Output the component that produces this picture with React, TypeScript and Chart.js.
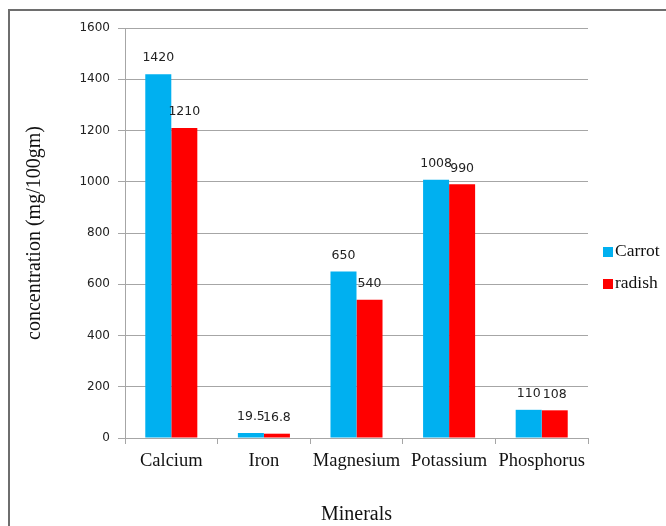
import React, { useEffect, useRef } from "react";
import { Chart, registerables } from "chart.js";

Chart.register(...registerables);

const categories = ["Calcium", "Iron", "Magnesium", "Potassium", "Phosphorus"];
const carrotValues = [1420, 19.5, 650, 1008, 110];
const radishValues = [1210, 16.8, 540, 990, 108];
const seriesNames = ["Carrot", "radish"];
const seriesColors = ["#00B0F0", "#FF0000"];
const yTicks = [0, 200, 400, 600, 800, 1000, 1200, 1400, 1600];

const valueLabelPlugin = {
  id: "valueLabels",
  afterDatasetsDraw(chart: any) {
    const ctx = chart.ctx;
    ctx.save();
    ctx.font = "12.5px 'DejaVu Sans'";
    ctx.fillStyle = "#222";
    ctx.textAlign = "center";
    ctx.textBaseline = "middle";
    chart.data.datasets.forEach((ds: any, di: number) => {
      const meta = chart.getDatasetMeta(di);
      meta.data.forEach((el: any, i: number) => {
        ctx.fillText(String(ds.data[i]), el.x, el.y - 16);
      });
    });
    ctx.restore();
  },
};

const sideLegendPlugin = {
  id: "sideLegend",
  afterDraw(chart: any) {
    const ctx = chart.ctx;
    ctx.save();
    ctx.font = "17.5px 'Liberation Serif'";
    ctx.textAlign = "left";
    ctx.textBaseline = "middle";
    chart.data.datasets.forEach((ds: any, di: number) => {
      const cy = 252 + di * 32;
      ctx.fillStyle = ds.backgroundColor;
      ctx.fillRect(603, cy - 5, 10, 10);
      ctx.fillStyle = "#111";
      ctx.fillText(ds.label, 615, cy - 1);
    });
    ctx.restore();
  },
};

export default function App() {
  const canvasRef = useRef<HTMLCanvasElement | null>(null);

  useEffect(() => {
    if (!canvasRef.current) return;
    const chart = new Chart(canvasRef.current, {
      type: "bar",
      data: {
        labels: categories,
        datasets: [
          { label: seriesNames[0], data: carrotValues, backgroundColor: seriesColors[0] },
          { label: seriesNames[1], data: radishValues, backgroundColor: seriesColors[1] },
        ],
      },
      options: {
        animation: false,
        responsive: false,
        maintainAspectRatio: false,
        layout: { padding: { left: 0, right: 78, top: 28, bottom: 0 } },
        datasets: { bar: { categoryPercentage: 0.562, barPercentage: 1 } },
        plugins: {
          legend: { display: false },
          tooltip: { enabled: false },
        },
        scales: {
          x: {
            afterFit: (s: any) => {
              s.height = 88;
            },
            grid: {
              offset: true,
              drawOnChartArea: false,
              drawTicks: true,
              tickLength: 6,
              color: "#a6a6a6",
            },
            border: { color: "#a6a6a6" },
            ticks: {
              padding: 6,
              color: "#111",
              maxRotation: 0,
              minRotation: 0,
              autoSkip: false,
              font: { family: "'Liberation Serif'", size: 18.5 },
            },
            title: {
              display: true,
              text: "Minerals",
              color: "#111",
              font: { family: "'Liberation Serif'", size: 20, lineHeight: 1 },
              padding: { top: 0, bottom: 1 },
            },
          },
          y: {
            min: 0,
            max: 1600,
            afterFit: (s: any) => {
              s.width = 125;
            },
            afterBuildTicks: (s: any) => {
              s.ticks = yTicks.map((v) => ({ value: v }));
            },
            grid: { color: "#a6a6a6", tickLength: 7 },
            border: { color: "#a6a6a6" },
            ticks: {
              padding: 8,
              color: "#222",
              font: { family: "'DejaVu Sans'", size: 12 },
              callback: (v: any) => String(v),
            },
            title: {
              display: true,
              text: "concentration (mg/100gm)",
              color: "#111",
              font: { family: "'Liberation Serif'", size: 20, lineHeight: 1 },
              padding: { top: 25, bottom: 0 },
            },
          },
        },
      },
      plugins: [valueLabelPlugin, sideLegendPlugin],
    });
    return () => chart.destroy();
  }, []);

  return (
    <div
      style={{
        position: "absolute",
        left: 0,
        top: 0,
        width: 666,
        height: 526,
        overflow: "hidden",
        background: "#fff",
      }}
    >
      <div
        style={{
          position: "absolute",
          left: 8,
          top: 9,
          width: 700,
          height: 600,
          borderLeft: "2px solid #6e6e6e",
          borderTop: "2px solid #6e6e6e",
        }}
      />
      <canvas
        ref={canvasRef}
        width={666}
        height={526}
        style={{ position: "absolute", left: 0, top: 0, width: 666, height: 526 }}
      />
    </div>
  );
}
